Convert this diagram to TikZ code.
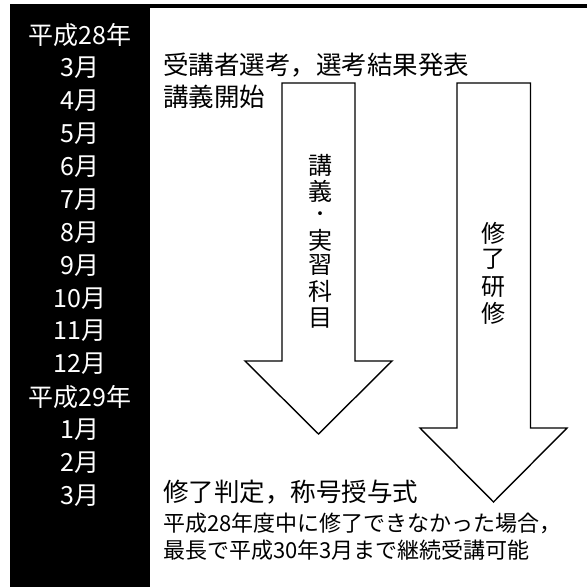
\documentclass[tikz,border=0pt]{standalone}
\usepackage{fontspec}
\setmainfont{Noto Sans CJK JP}
\tikzset{
  month/.style={text=white, font=\fontsize{25}{25}\selectfont, inner sep=0pt, anchor=center},
  big/.style={font=\fontsize{25.5}{25.5}\selectfont, inner sep=0pt, anchor=west},
  small/.style={font=\fontsize{22}{22}\selectfont, inner sep=0pt, anchor=west},
  vert/.style={font=\fontsize{24}{24}\selectfont, inner sep=0pt, anchor=center},
  vdot/.style={font=\fontsize{18}{18}\selectfont, inner sep=0pt, anchor=center},
  bigarrow/.style={draw=black, fill=white, line width=1.4pt, line join=miter},
}
\begin{document}
\begin{tikzpicture}[x=1pt,y=-1pt]
\useasboundingbox (0,0) rectangle (587,587);
\fill[white] (0,0) rectangle (587,587);
% top bar and left column
\fill[black] (10,4) rectangle (587,7.5);
\fill[black] (10,4) rectangle (150,587);
% months
\foreach \t [count=\i from 0] in {平成28年,3月,4月,5月,6月,7月,8月,9月,10月,11月,12月,平成29年,1月,2月,3月}{
  \node[month] (m\i) at (80,35+32.9*\i) {\t};
}
% arrows
\draw[bigarrow] (282,83) -- (355,83) -- (355,361) -- (392,361) -- (318.5,434) -- (245,361) -- (282,361) -- cycle;
\draw[bigarrow] (457,83) -- (530.5,83) -- (530.5,428) -- (567,428) -- (493.5,502) -- (420,428) -- (457,428) -- cycle;
% texts
\node[big] (t1) at (163,65) {受講者選考，選考結果発表};
\node[big] (t2) at (163,97) {講義開始};
\node[big] (t3) at (163,492) {修了判定，称号授与式};
\node[small] (t4) at (163,523) {平成28年度中に修了できなかった場合，};
\node[small] (t5) at (163,550) {最長で平成30年3月まで継続受講可能};
% vertical text in arrows
\node[vert] (a1) at (320,165) {講};
\node[vert] (a2) at (320,191) {義};
\node[vdot] (a3) at (320,216) {・};
\node[vert] (a4) at (320,240) {実};
\node[vert] (a5) at (320,265) {習};
\node[vert] (a6) at (320,291) {科};
\node[vert] (a7) at (320,318) {目};
\node[vert] (b1) at (493,233) {修};
\node[vert] (b2) at (493,259) {了};
\node[vert] (b3) at (493,287) {研};
\node[vert] (b4) at (493,313) {修};
\end{tikzpicture}
\end{document}
